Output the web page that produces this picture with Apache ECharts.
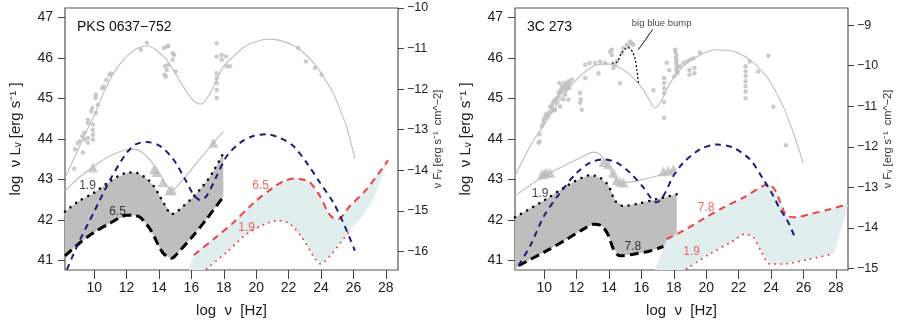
<!DOCTYPE html>
<html>
<head>
<meta charset="utf-8">
<script src="https://cdn.jsdelivr.net/npm/echarts@6/dist/echarts.min.js"></script>
<style>
  html, body { margin: 0; background: #fff; }
  #chart { width: 900px; height: 323px; }
</style>
</head>
<body>
<div id="chart"></div>
<script>
// ---- ticks ----
const xTicks = [10, 12, 14, 16, 18, 20, 22, 24, 26, 28]
const lumTicks = [41, 42, 43, 44, 45, 46, 47]
const pksFluxTicks = [-16, -15, -14, -13, -12, -11, -10]
const c3FluxTicks = [-15, -14, -13, -12, -11, -10, -9]

// ---- PKS 0637-752 ----
const pksPoints = [[8.77,43.26],[8.83,43.74],[8.97,43.89],[9.1,43.94],[9.26,44.06],[9.3,43.66],[9.4,44.15],[9.4,43.98],
  [9.61,44.39],[9.61,44.47],[9.61,43.9],[9.61,44.02],[9.82,44.68],[9.88,44.76],[9.92,44.35],[9.92,44.22],[9.92,44.1],
  [9.92,43.98],[10.08,45.01],[10.1,45.09],[10.12,44.64],[10.23,44.84],[10.49,45.25],[10.57,45.29],[10.74,45.46],
  [10.94,45.58],[11.03,45.61],[12.88,46.2],[13.25,46.37],[14.31,46.24],[14.48,46.28],[14.58,46.3],[14.38,45.79],
  [14.48,45.7],[14.42,45.54],[14.34,45.58],[14.58,45.83],[14.85,46.11],[14.93,46.07],[14.85,45.95],[15.03,45.66],
  [17.56,46.36],[17.87,46.07],[17.56,46.03],[18.14,46.03],[17.87,45.95],[17.56,45.62],[17.56,45.5],[17.56,45.38],
  [17.56,45.21],[17.56,45.01],[18.18,45.79],[18.38,45.79],[22.6,46.24],[23.07,45.91],[23.62,45.75],[24.03,45.58]]
const pksFit = [[8.2,43.04],[8.5,43.3],[9,43.72],[9.5,44.17],[10,44.58],[10.5,45.06],[11,45.48],[11.5,45.8],[12,46.03],
  [12.5,46.2],[13.25,46.29],[13.8,46.2],[14.47,45.95],[15,45.62],[15.5,45.29],[16,45.0],[16.35,44.88],[16.64,44.86],
  [16.9,44.97],[17.2,45.15],[17.56,45.45],[18,45.8],[18.59,46.03],[19.2,46.25],[19.8,46.37],[20.6,46.46],[21.2,46.45],
  [21.7,46.4],[22.2,46.32],[22.7,46.2],[23.2,46.02],[23.72,45.79],[24.2,45.5],[24.75,45.13],[25.2,44.7],[25.57,44.31],
  [25.85,43.9],[26.09,43.51]]
const pksDisk = [[8.2,42.71],[9,43.02],[10,43.33],[11,43.58],[12,43.73],[12.5,43.74],[13,43.65],[13.5,43.45],[14,43.18],
  [14.4,42.9],[14.8,42.72],[15.3,42.91],[16.4,43.44],[17.97,44.19]]
const pksTri = [[9.92,43.29],[13.7,43.25],[13.86,43.18],[14.23,42.93],[14.64,42.73],[14.79,42.73],[17.36,43.9]]
const pksJetHigh = [[8.2,42.2],[9,42.45],[10,42.67],[11,42.96],[12,43.16],[12.5,43.17],[12.84,43.12],[13.3,43.0],
  [13.66,42.84],[14.0,42.62],[14.27,42.43],[14.79,42.14],[15.1,42.2],[15.51,42.34],[16,42.52],[16.53,42.75],[17,42.98],
  [17.36,43.2],[17.97,43.64]]
const pksJetLow = [[8.2,41.11],[9.14,41.44],[10,41.69],[11,41.92],[12,42.11],[12.4,42.11],[12.84,42.06],[13.2,41.9],
  [13.45,41.77],[13.75,41.55],[13.97,41.36],[14.25,41.18],[14.48,41.1],[14.79,41.05],[15.05,41.13],[15.3,41.24],
  [16.12,41.61],[16.94,42.02],[17.97,42.57]]
const pksEc = [[8.32,40.77],[9,41.4],[10,42.2],[11,43.0],[12,43.65],[12.6,43.87],[13.25,43.92],[14.07,43.82],[14.89,43.49],
  [15.61,43.0],[16.12,42.63],[16.53,42.49],[16.94,42.59],[17.56,43.08],[18.18,43.57],[19.0,43.9],[19.82,44.07],
  [20.64,44.11],[21.46,44.02],[22.29,43.82],[23.11,43.41],[23.93,42.92],[24.75,42.43],[25.37,41.93],[26.09,41.24]]
const pksSscHigh = [[16.16,41.13],[17.36,41.52],[18.59,41.93],[19.82,42.41],[21.05,42.8],[21.8,42.97],[22.49,43.02],
  [23.0,42.98],[23.31,42.93],[23.93,42.59],[24.44,42.18],[24.75,42.04],[25.06,42.02],[25.78,42.34],[26.8,42.75],[28.14,43.47]]
const pksSscLow = [[16.94,40.79],[18.18,41.2],[19.41,41.65],[20.64,41.91],[21.36,41.98],[22.08,41.9],[22.9,41.52],
  [23.52,41.11],[23.97,40.91],[24.55,41.11],[25.37,41.52],[25.8,41.75]]
const pksSscFloor = [[15.6,40.5],[16.94,40.79],[18.18,41.2],[19.41,41.65],[20.64,41.91],[21.36,41.98],[22.08,41.9],
  [22.9,41.52],[23.52,41.11],[23.97,40.91],[24.55,41.11],[25.37,41.52],[26.0,41.85],[26.6,42.1],[27.22,42.5],[28.14,43.47]]
const pksLabels = [[9.59,42.84,'1.9'],[11.44,42.2,'6.5']]
const pksRedLabels = [[20.27,42.85,'6.5'],[19.41,41.8,'1.9']]

// ---- 3C 273 ----
const c3Points = [[9.65,43.9],[9.71,44.11],[9.71,43.94],[9.86,44.31],[9.96,44.39],[9.96,44.47],[10.06,44.52],[10.1,44.6],
  [10.2,44.55],[10.27,44.64],[10.37,44.8],[10.4,44.68],[10.47,44.76],[10.5,44.85],[10.58,44.92],[10.6,44.7],[10.68,44.72],
  [10.68,44.97],[10.78,44.89],[10.8,45.0],[10.88,45.05],[10.9,45.15],[10.99,44.8],[10.99,45.13],[10.94,45.38],[11.0,45.2],
  [11.09,45.17],[11.1,45.3],[11.19,45.25],[11.19,44.97],[11.25,45.38],[11.3,45.09],[11.3,45.29],[11.35,45.2],[11.4,45.34],
  [11.45,45.3],[11.5,45.42],[11.5,44.97],[11.55,45.25],[11.6,45.38],[11.71,45.46],[12.22,45.13],[12.26,44.97],[12.22,44.89],
  [12.32,44.72],[12.53,45.5],[12.53,45.83],[12.8,45.87],[13.14,45.87],[13.45,45.91],[13.35,45.62],[13.76,45.87],
  [14.07,46.15],[14.17,46.07],[14.17,46.2],[14.27,45.75],[14.38,45.83],[14.48,45.91],[14.69,45.38],[14.79,46.11],
  [14.89,46.24],[15.1,46.32],[15.2,46.28],[15.3,46.4],[15.4,46.36],[15.5,46.32],[16.74,45.2],[17.4,45.5],[17.4,45.38],
  [17.4,45.25],[17.4,45.13],[17.4,44.9],[17.4,44.52],[17.56,45.88],[17.72,45.69],[18.08,46.2],[18.1,46.15],[18.12,46.0],
  [18.17,46.07],[18.17,45.95],[18.15,45.9],[18.17,45.83],[18.2,45.77],[18.17,45.71],[18.2,45.66],[18.22,45.62],
  [18.02,45.54],[18.38,45.79],[18.59,45.87],[18.8,45.91],[19.0,45.95],[19.21,45.99],[18.96,45.7],[18.96,45.58],
  [19.27,45.75],[19.27,45.62],[19.62,46.13],[22.43,45.79],[22.43,45.67],[22.43,45.55],[22.43,45.42],[22.43,45.3],
  [22.43,45.17],[22.43,45.0],[22.69,45.91],[23.2,45.66],[23.83,46.05],[24.14,44.79],[24.92,43.84]]
const c3Fit = [[8.2,43.08],[9.14,43.82],[10,44.35],[11,44.97],[12,45.46],[13.04,45.79],[13.86,45.85],[14.48,45.79],
  [15.3,45.58],[16.12,45.21],[16.5,44.95],[16.84,44.76],[17.15,44.89],[17.5,45.15],[17.77,45.38],[18.59,45.79],
  [19.62,46.07],[20.64,46.2],[21.67,46.16],[22.7,45.95],[23.72,45.54],[24.3,45.15],[24.75,44.8],[25.37,44.15],[25.99,43.39]]
const c3Bump = [[14.17,45.87],[14.5,45.9],[14.75,46.1],[15.0,46.22],[15.2,46.25],[15.45,46.15],[15.61,45.98],[15.72,45.7],[15.82,45.38]]
const c3BumpPointer = [[16.7,46.7],[15.81,46.2]]
const c3BumpLabel = [[17.25,46.84,'big blue bump']]
const c3Disk = [[8.2,42.59],[10,43.08],[11.4,43.37],[12.42,43.57],[13.04,43.67],[13.45,43.61],[14.07,43.25],[14.48,42.96],
  [14.89,42.92],[15.71,42.96],[16.94,43.08],[18.18,43.25]]
const c3Tri = [[9.86,43.12],[10.0,43.14],[10.15,43.16],[10.37,43.16],[13.66,43.43],[13.95,43.38],[14.27,43.16],[14.48,42.98],
  [14.68,42.94],[14.89,42.92],[17.36,43.2],[17.66,43.22],[17.97,43.25]]
const c3JetHigh = [[8.2,42.06],[10,42.48],[11.4,42.84],[12.4,43.05],[12.84,43.1],[13.45,43.04],[13.97,42.84],[14.38,42.47],
  [14.89,42.34],[15.71,42.39],[16.94,42.51],[18.18,42.63]]
const c3JetLow = [[8.42,40.87],[10,41.2],[11.4,41.52],[12.42,41.77],[13.04,41.89],[13.55,41.85],[13.97,41.61],[14.27,41.28],
  [14.68,41.11],[15.51,41.15],[16.53,41.23],[17.36,41.34]]
const c3JetFloor = [[8.2,40.75],[8.42,40.87],[10,41.2],[11.4,41.52],[12.42,41.77],[13.04,41.89],[13.55,41.85],[13.97,41.61],
  [14.27,41.28],[14.68,41.11],[15.51,41.15],[16.53,41.23],[17.36,41.34],[18.18,41.57]]
const c3Ec = [[8.42,40.87],[9.14,41.36],[10,42.1],[10.99,42.67],[12.01,43.16],[12.84,43.41],[13.66,43.49],[14.48,43.41],
  [15.3,43.16],[16.12,42.8],[16.64,42.51],[16.94,42.43],[17.36,42.59],[17.97,43.08],[18.59,43.41],[19.62,43.74],
  [20.64,43.86],[21.67,43.78],[22.7,43.49],[23.52,43.0],[24.14,42.59],[24.55,42.26],[24.96,42.02],[25.47,41.57]]
const c3SscHigh = [[17.56,41.52],[18.59,41.73],[19.82,42.02],[21.05,42.3],[22.29,42.55],[23.52,42.84],[23.8,42.88],
  [24.03,42.84],[24.3,42.7],[24.55,42.45],[24.8,42.2],[24.96,42.1],[25.47,42.06],[26.4,42.14],[27.63,42.26],[28.76,42.39]]
const c3SscLow = [[18.79,40.79],[20.23,41.16],[21.67,41.48],[22.39,41.65],[22.9,41.57],[23.42,41.2],[23.93,40.91],
  [24.75,40.91],[26.4,41.03],[27.83,41.16]]
const c3SscFloor = [[16.5,40.4],[18.79,40.79],[20.23,41.16],[21.67,41.48],[22.39,41.65],[22.9,41.57],[23.42,41.2],
  [23.93,40.91],[24.75,40.91],[26.4,41.03],[27.9,41.16],[28.78,42.4]]
const c3Labels = [[9.75,42.65,'1.9'],[15.47,41.34,'7.8']]
const c3RedLabels = [[19.99,42.3,'7.8'],[19.1,41.2,'1.9']]

const GRAY = '#bebebe'
const NAVY = '#1c1c7c'
const RED = '#f04040'
const FONT = "'Liberation Sans', Arial, sans-serif"

const chart = echarts.init(document.getElementById('chart'))

const band = (top, floor, color, xi, yi) => ({
  type: 'custom', xAxisIndex: xi, yAxisIndex: yi, clip: true, silent: true, z: 1,
  data: [0],
  renderItem: (params, api) => ({
    type: 'polygon',
    shape: { points: top.concat(floor.slice().reverse()).map(p => api.coord(p)) },
    style: { fill: color }
  })
})

const curve = (data, xi, yi, style, z = 3) => ({
  type: 'line', xAxisIndex: xi, yAxisIndex: yi, data, smooth: 0.3, symbol: 'none', z,
  silent: true, lineStyle: style
})

const dots = (data, xi, yi, symbol, size) => ({
  type: 'scatter', xAxisIndex: xi, yAxisIndex: yi, data, symbol, symbolSize: size, z: 2,
  silent: true, itemStyle: { color: GRAY }
})

const texts = (data, xi, yi, color, size) => ({
  type: 'scatter', xAxisIndex: xi, yAxisIndex: yi, data, symbolSize: 0, z: 6, silent: true,
  label: { show: true, position: 'inside', formatter: p => p.data[2], color, fontSize: size, fontFamily: FONT }
})

const dotted = (color, w, gap) => ({ color, width: w, type: [0.01, gap], cap: 'round' })
const dashed = (color, w, dash) => ({ color, width: w, type: dash })

const xAxis = gi => ({
  type: 'value', gridIndex: gi, min: 8.2, max: 28.75,
  name: 'log  \u03BD  [Hz]', nameLocation: 'middle', nameGap: 33,
  nameTextStyle: { fontSize: 15, color: '#222', fontFamily: FONT },
  axisLine: { show: false },
  axisTick: { show: true, customValues: xTicks, length: 9, lineStyle: { color: '#444' } },
  axisLabel: { customValues: xTicks, fontSize: 14, color: '#222', margin: 11, fontFamily: FONT },
  splitLine: { show: false }
})

const lumAxis = gi => ({
  type: 'value', gridIndex: gi, position: 'left', min: 40.76, max: 47.23,
  name: 'log  \u03BD L\u1D65 [erg s\u207B\u00B9 ]', nameLocation: 'middle', nameRotate: 90, nameGap: 42,
  nameTextStyle: { fontSize: 15, color: '#222', fontFamily: FONT },
  axisLine: { show: false },
  axisTick: { show: true, customValues: lumTicks, length: 7, lineStyle: { color: '#444' } },
  axisLabel: { customValues: lumTicks, fontSize: 14, color: '#222', margin: 12, fontFamily: FONT },
  splitLine: { show: false }
})

const fluxAxis = (gi, min, max, ticks) => ({
  type: 'value', gridIndex: gi, position: 'right', min, max,
  name: '\u03BD F\u1D65 [erg s\u207B\u00B9  cm^\u22122]', nameLocation: 'middle', nameRotate: 90, nameGap: 30,
  nameTextStyle: { fontSize: 11, color: '#333', fontFamily: FONT },
  axisLine: { show: false },
  axisTick: { show: true, customValues: ticks, length: 6, lineStyle: { color: '#444' } },
  axisLabel: { customValues: ticks, fontSize: 12.5, color: '#222', margin: 9, fontFamily: FONT,
    formatter: v => '\u2212' + Math.abs(v) },
  splitLine: { show: false }
})

chart.setOption({
  animation: false,
  backgroundColor: '#fff',
  textStyle: { fontFamily: FONT },
  title: [
    { text: 'PKS 0637\u2212752', left: 72, top: 15, textStyle: { fontSize: 14, fontWeight: 'normal', color: '#111', fontFamily: FONT } },
    { text: '3C 273', left: 522, top: 15, textStyle: { fontSize: 14, fontWeight: 'normal', color: '#111', fontFamily: FONT } }
  ],
  grid: [
    { left: 65, top: 8, width: 333, height: 263, show: true, borderColor: '#555', borderWidth: 1.2 },
    { left: 515, top: 8, width: 333, height: 263, show: true, borderColor: '#555', borderWidth: 1.2 }
  ],
  xAxis: [xAxis(0), xAxis(1)],
  yAxis: [
    lumAxis(0),
    fluxAxis(0, -16.46, -10, pksFluxTicks),
    lumAxis(1),
    fluxAxis(1, -15.04, -8.575, c3FluxTicks)
  ],
  series: [
    // PKS 0637-752
    band(pksJetHigh, pksJetLow, '#bebebe', 0, 0),
    band(pksSscHigh, pksSscFloor, '#e0eeee', 0, 0),
    curve(pksFit, 0, 0, { color: GRAY, width: 1.1 }, 2),
    curve(pksDisk, 0, 0, { color: GRAY, width: 1.1 }, 2),
    dots(pksPoints, 0, 0, 'circle', 4.5),
    dots(pksTri, 0, 0, 'triangle', 10),
    curve(pksJetHigh, 0, 0, dotted('#000', 2.6, 7)),
    curve(pksJetLow, 0, 0, dashed('#000', 3, [9, 5])),
    curve(pksEc, 0, 0, dashed(NAVY, 2, [6, 5]), 4),
    curve(pksSscHigh, 0, 0, dashed(RED, 2, [7, 5])),
    curve(pksSscLow, 0, 0, dotted(RED, 2, 6)),
    texts(pksLabels, 0, 0, '#111', 12),
    texts(pksRedLabels, 0, 0, RED, 12),
    // 3C 273
    band(c3JetHigh, c3JetFloor, '#bebebe', 1, 2),
    band(c3SscHigh, c3SscFloor, '#e0eeee', 1, 2),
    curve(c3Fit, 1, 2, { color: GRAY, width: 1.1 }, 2),
    curve(c3Disk, 1, 2, { color: GRAY, width: 1.1 }, 2),
    dots(c3Points, 1, 2, 'circle', 4.5),
    dots(c3Tri, 1, 2, 'triangle', 10),
    curve(c3Bump, 1, 2, dashed('#000', 1.2, [2, 2])),
    curve(c3BumpPointer, 1, 2, { color: '#000', width: 1 }),
    texts(c3BumpLabel, 1, 2, '#111', 9.5),
    curve(c3JetHigh, 1, 2, dotted('#000', 2.6, 7)),
    curve(c3JetLow, 1, 2, dashed('#000', 3, [9, 5])),
    curve(c3Ec, 1, 2, dashed(NAVY, 2, [6, 5]), 4),
    curve(c3SscHigh, 1, 2, dashed(RED, 2, [7, 5])),
    curve(c3SscLow, 1, 2, dotted(RED, 2, 6)),
    texts(c3Labels, 1, 2, '#111', 12),
    texts(c3RedLabels, 1, 2, RED, 12)
  ]
})
</script>
</body>
</html>
